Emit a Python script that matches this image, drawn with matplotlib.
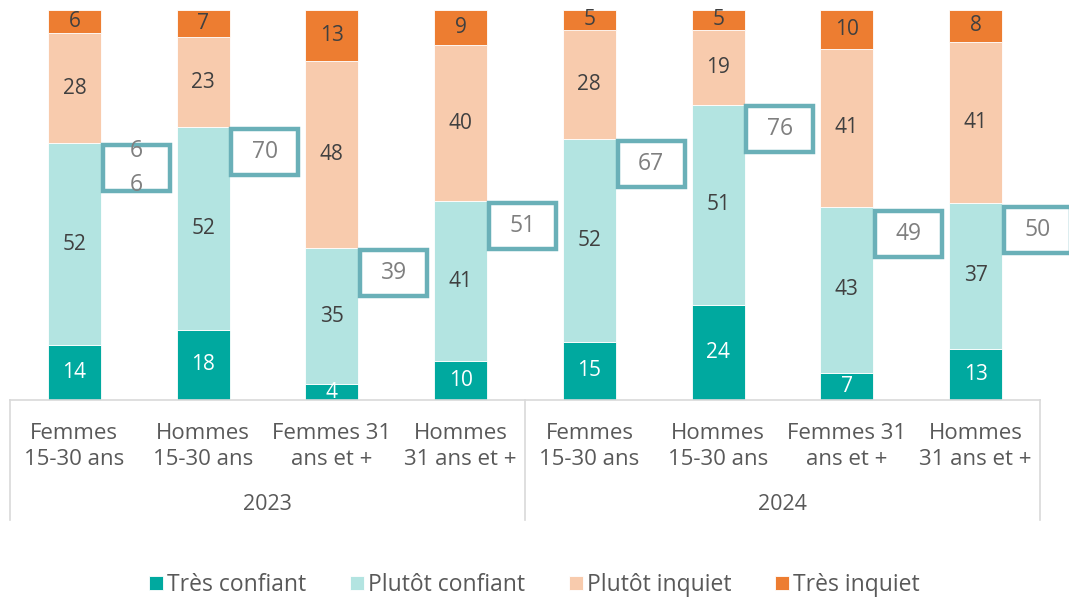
import matplotlib.pyplot as plt
from matplotlib.patches import Rectangle

# data
categories = ["Femmes\n15-30 ans", "Hommes\n15-30 ans", "Femmes 31\nans et +", "Hommes\n31 ans et +",
              "Femmes\n15-30 ans", "Hommes\n15-30 ans", "Femmes 31\nans et +", "Hommes\n31 ans et +"]
years = ["2023", "2024"]
tres_confiant = [14, 18, 4, 10, 15, 24, 7, 13]
plutot_confiant = [52, 52, 35, 41, 52, 51, 43, 37]
plutot_inquiet = [28, 23, 48, 40, 28, 19, 41, 41]
tres_inquiet = [6, 7, 13, 9, 5, 5, 10, 8]
total_confiant = [66, 70, 39, 51, 67, 76, 49, 50]

series = [("Très confiant", tres_confiant, "#00a99f", "white"),
          ("Plutôt confiant", plutot_confiant, "#b3e4e1", "#404040"),
          ("Plutôt inquiet", plutot_inquiet, "#f8cbad", "#404040"),
          ("Très inquiet", tres_inquiet, "#ed7d31", "#404040")]

plt.rcParams['font.family'] = ['Open Sans', 'DejaVu Sans']
fig = plt.figure(figsize=(10.69, 5.99), dpi=100)
ax = fig.add_axes([10/1069, 199/599, 1030/1069, 390/599])

# 100% stacked
totals = [sum(s[1][i] for s in series) for i in range(len(categories))]
x = list(range(len(categories)))
bottom = [0]*len(x)
for name, vals, col, tcol in series:
    h = [v / t * 100 for v, t in zip(vals, totals)]
    ax.bar(x, h, width=0.41, bottom=bottom, color=col, label=name,
           edgecolor="white", linewidth=0.6)
    for i, v in enumerate(vals):
        ax.text(i, bottom[i] + h[i]/2, str(v), ha="center", va="center",
                fontsize=15, color=tcol)
    bottom = [b + hh for b, hh in zip(bottom, h)]

# boxes with total confidence
bw, bh = 0.52, 11.8
for i, v in enumerate(total_confiant):
    cx, cy = i + 0.48, v - 6.5
    ax.add_patch(Rectangle((cx - bw/2, cy - bh/2), bw, bh, facecolor="white",
                           edgecolor="#6ab0b8", linewidth=3.2, zorder=3, clip_on=False))
    if i == 0:
        ax.text(cx, cy, "\n".join(str(v)), ha="center", va="center", fontsize=16.5,
                color="#7f7f7f", zorder=4, linespacing=1.6)
    else:
        ax.text(cx, cy, str(v), ha="center", va="center", fontsize=16.5,
                color="#7f7f7f", zorder=4)

ax.set_xlim(-0.5, 7.5)
ax.set_ylim(0, 100)
ax.axis("off")

# category axis
tr = ax.get_xaxis_transform()
ax.plot([-0.5, 7.5], [0, 0], color="#d9d9d9", lw=1.2, transform=tr, clip_on=False)
for xv in [-0.5, 3.5, 7.5]:
    ax.plot([xv, xv], [0, -0.308], color="#d9d9d9", lw=1.2, transform=tr, clip_on=False)
for i, c in enumerate(categories):
    ax.text(i, -0.119, c, ha="center", va="center", fontsize=16, color="#595959",
            transform=tr, linespacing=1.35)
for j, y in enumerate(years):
    ax.text(1.5 + 4*j, -0.268, y, ha="center", va="center", fontsize=15.5,
            color="#595959", transform=tr)

fig.legend(loc="center", bbox_to_anchor=(0.5, 14/599), ncol=4, frameon=False,
           fontsize=16.5, handlelength=0.6, handleheight=0.6, handletextpad=0.2,
           columnspacing=1.9, labelcolor="#595959")

fig.savefig("out.png", dpi=100)
